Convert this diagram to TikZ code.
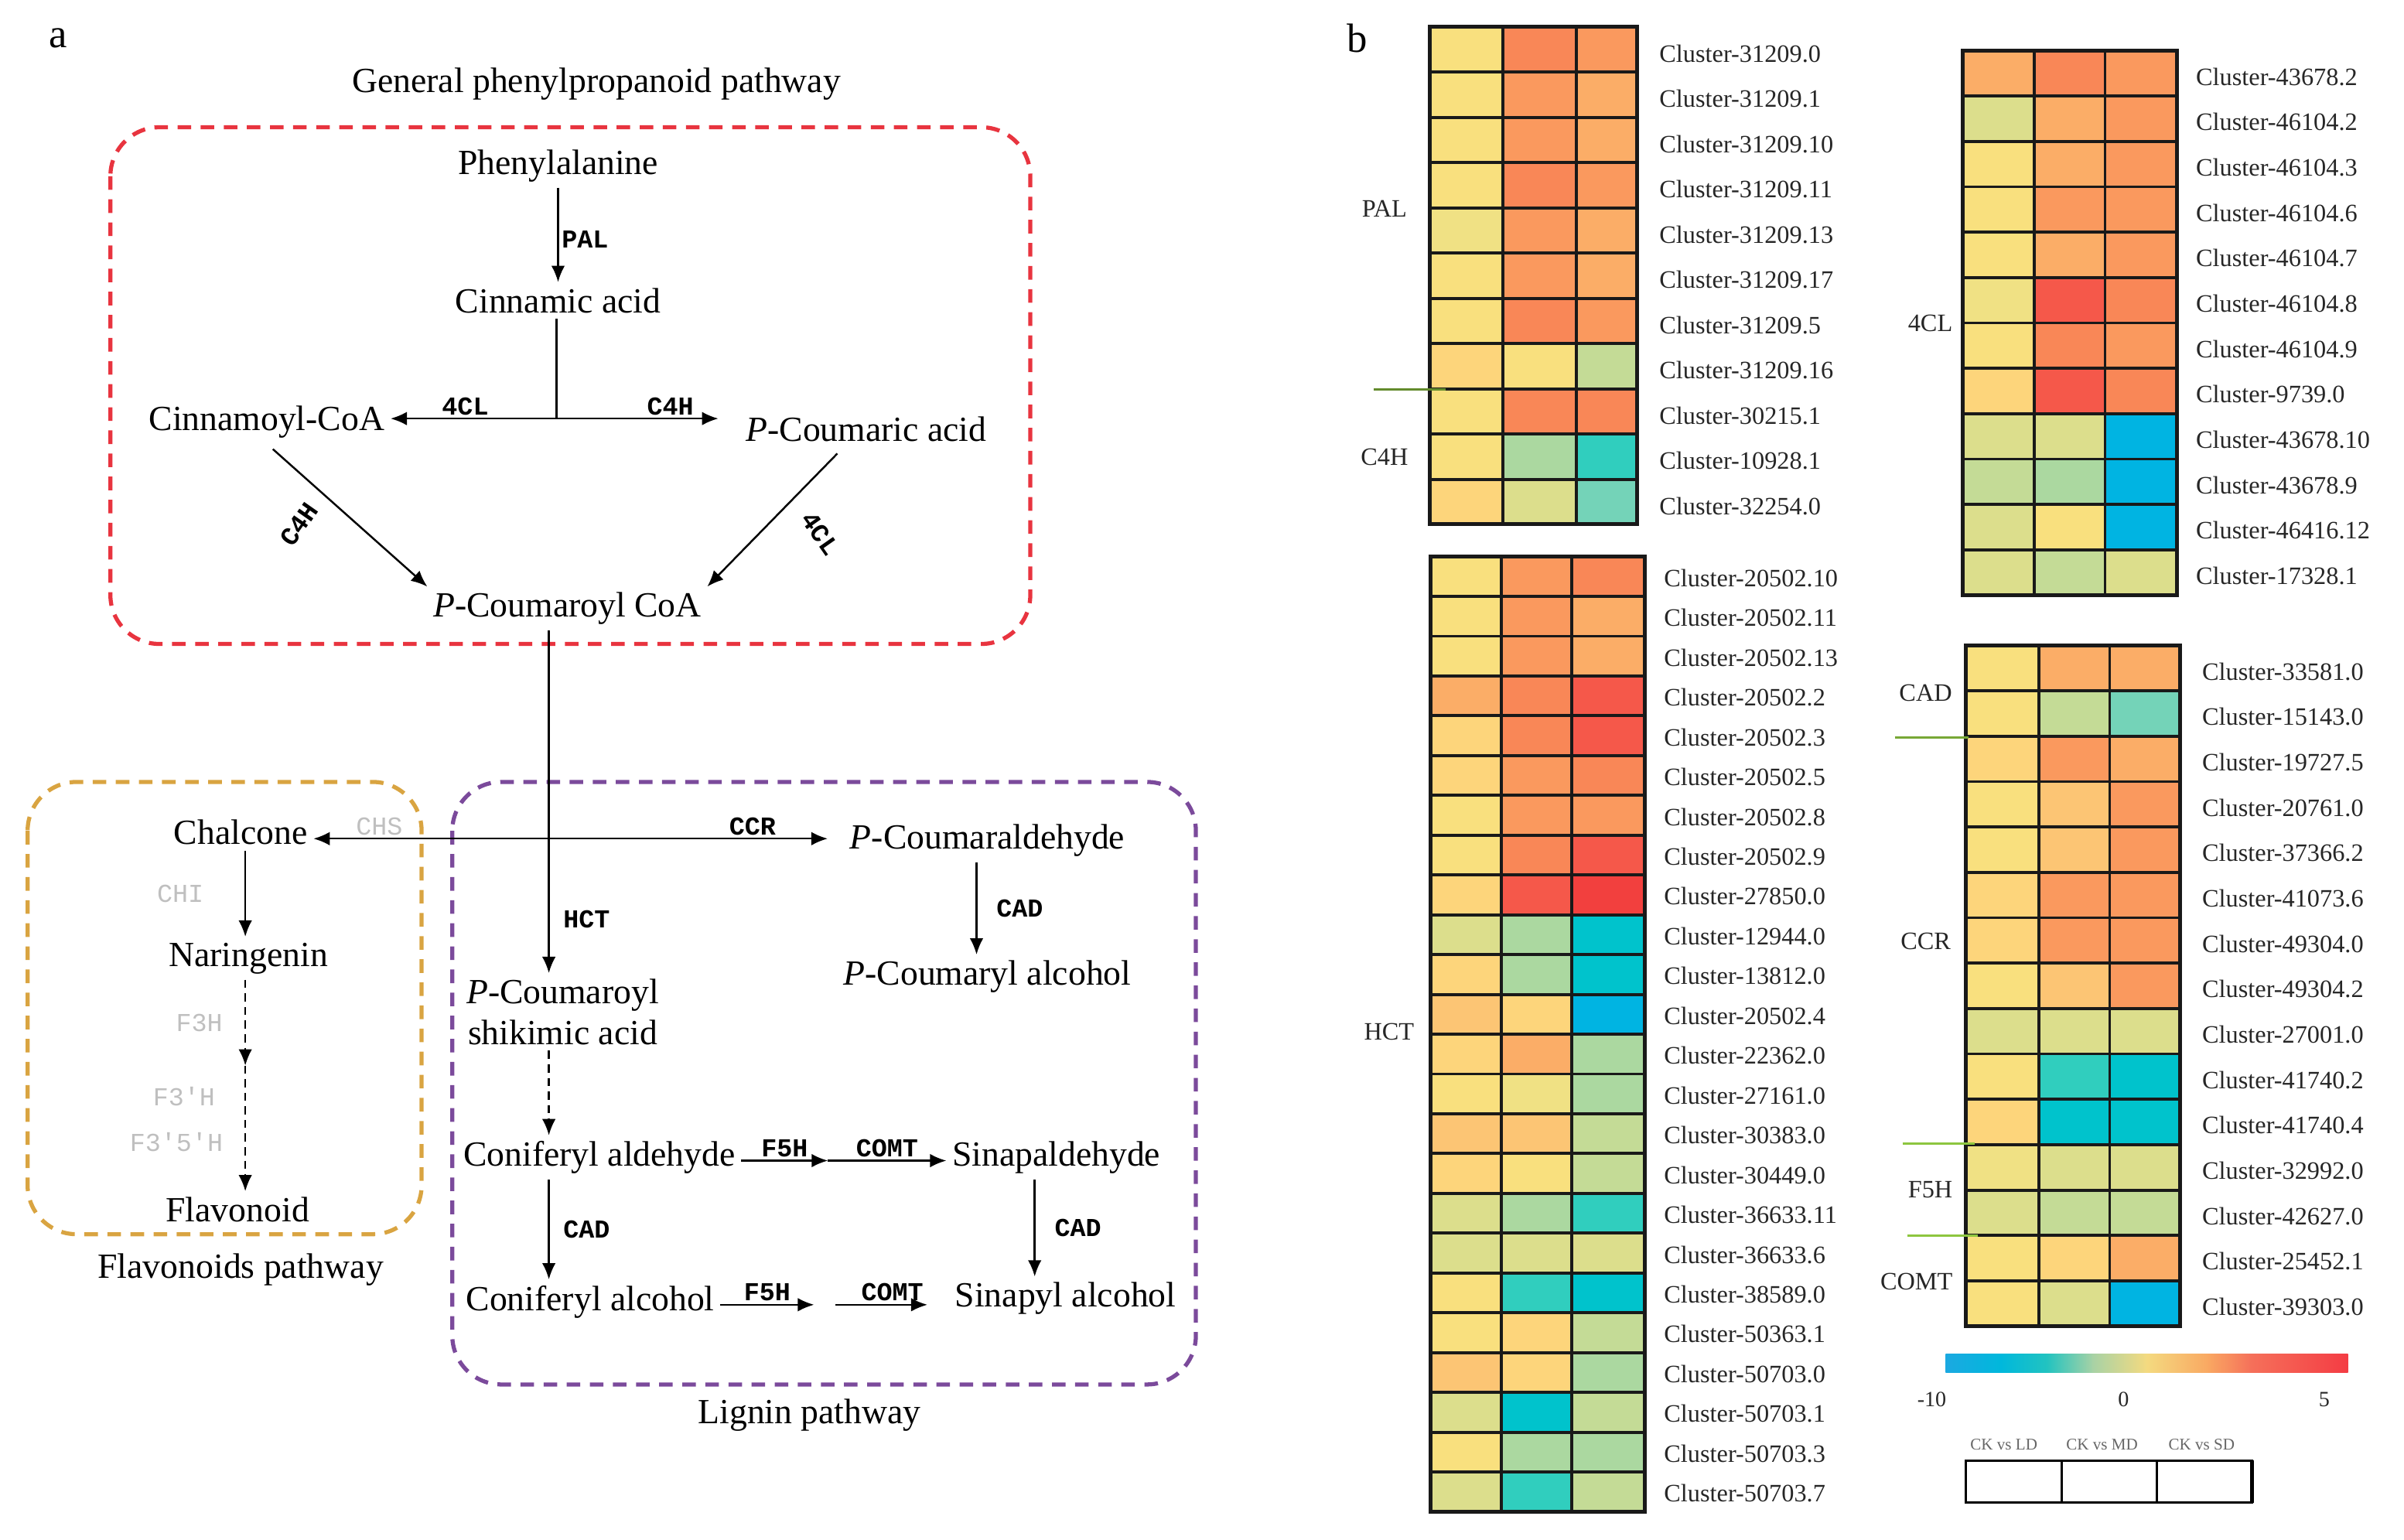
\documentclass[tikz,border=0pt]{standalone}
\usepackage{fontspec}
\setmainfont{Liberation Serif}
\setmonofont{Liberation Mono}
\usetikzlibrary{arrows.meta}
\definecolor{hY}{HTML}{F9E07E}
\definecolor{hYp}{HTML}{F0E184}
\definecolor{hYo}{HTML}{FDD57B}
\definecolor{hYd}{HTML}{FCC574}
\definecolor{hLo}{HTML}{FBAD67}
\definecolor{hO}{HTML}{FA995E}
\definecolor{hOr}{HTML}{F98757}
\definecolor{hR}{HTML}{F5584A}
\definecolor{hRr}{HTML}{F2403E}
\definecolor{hGy}{HTML}{DCDE8C}
\definecolor{hLg}{HTML}{C4DB96}
\definecolor{hG}{HTML}{ABD8A0}
\definecolor{hTl}{HTML}{74D3B8}
\definecolor{hT}{HTML}{30CEBE}
\definecolor{hC}{HTML}{00C3CC}
\definecolor{hB}{HTML}{00B4E2}
\definecolor{boxred}{HTML}{E8343F}
\definecolor{boxgold}{HTML}{D9A441}
\definecolor{boxpurple}{HTML}{7B4A9B}
\definecolor{sepgreen}{HTML}{8DC63F}

\begin{document}
\begin{tikzpicture}[x=0.01982cm,y=-0.01982cm,
  cmp/.style={font=\fontsize{13}{15}\selectfont,inner sep=2pt},
  enz/.style={font=\ttfamily\bfseries\fontsize{9.5}{11}\selectfont,inner sep=1pt},
  faint/.style={font=\ttfamily\fontsize{9.5}{11}\selectfont,text=black!25,inner sep=1pt},
  rxn/.style={-{Latex[length=6pt,width=5pt]},line width=0.7pt},
  dsh/.style={dash pattern=on 3pt off 2pt},
  pathbox/.style={line width=1.5pt,dash pattern=on 5pt off 3.5pt,rounded corners=18pt},
  clu/.style={anchor=west,font=\fontsize{9.2}{11}\selectfont,text=black!85,inner sep=0pt},
  grp/.style={font=\fontsize{9.2}{11}\selectfont,text=black!85,inner sep=0pt},
  cell/.style={line width=1.1pt,black!90},
  sep/.style={line width=1pt,sepgreen}]
\useasboundingbox (0,0) rectangle (1568,1004);

\node[font=\fontsize{15}{17}\selectfont] (pa) at (38,25) {a};
\node[font=\fontsize{15}{17}\selectfont] (pb) at (885,25) {b};

\draw[pathbox,boxred] (72,83) rectangle (672,420);
\draw[pathbox,boxgold] (18,510) rectangle (275,805);
\draw[pathbox,boxpurple] (295,510) rectangle (780,903);
\node[cmp] (ttlgen) at (389,55) {General phenylpropanoid pathway};
\node[cmp] (ttlflav) at (157,828) {Flavonoids pathway};
\node[cmp] (ttllig) at (528,923) {Lignin pathway};

\node[cmp] (phe) at (364,108) {Phenylalanine};
\node[cmp] (cin) at (364,196) {Cinnamic acid};
\node[cmp] (cinco) at (174,275) {Cinnamoyl-CoA};
\node[cmp] (pcou) at (565,280) {\textit{P}-Coumaric acid};
\node[cmp] (pcoa) at (370,397) {\textit{P}-Coumaroyl CoA};
\coordinate (cs) at (363,273);
\coordinate (br) at (358,547);

\draw[rxn] (phe) -- node[enz,right,pos=0.55] (ePAL) {PAL} (cin);
\draw[line width=0.7pt] (cin.south -| cs) -- (cs);
\draw[rxn] (cs) -- node[enz,above,pos=0.55] (e4CLa) {4CL} (cs -| cinco.east);
\draw[rxn,shorten >=8pt] (cs) -- node[enz,above,pos=0.62] (eC4Ha) {C4H} (cs -| pcou.west);
\draw[rxn,shorten <=3pt] (cinco.south) -- (pcoa.north west);
\draw[rxn,shorten <=3pt] ([xshift=-0.3cm]pcou.south) -- (pcoa.north east);
\node[enz,rotate=55] (eC4Hb) at (195,342) {C4H};
\node[enz,rotate=-55] (e4CLb) at (535,348) {4CL};

\node[cmp] (chal) at (157,543) {Chalcone};
\node[cmp] (nar) at (162,625) {Naringenin};
\node[cmp] (flav) at (155,789) {Flavonoid};
\coordinate (fmid) at (160,695);
\draw[line width=0.7pt] (pcoa.south -| br) -- (br);
\draw[rxn] (br) -- node[faint,above,pos=0.72] (eCHS) {CHS} (br -| chal.east);
\draw[rxn] (chal.south -| fmid) -- node[faint,left=14pt,pos=0.5] (eCHI) {CHI} (nar.north -| fmid);
\draw[rxn,dsh] (nar.south -| fmid) -- (fmid);
\draw[rxn,dsh] (fmid) -- (fmid |- flav.north);
\node[faint] (eF3H) at (130,667) {F3H};
\node[faint] (eF3pH) at (120,715) {F3'H};
\node[faint] (eF35H) at (115,745) {F3'5'H};

\node[cmp] (pald) at (644,548) {\textit{P}-Coumaraldehyde};
\node[cmp] (palc) at (644,637) {\textit{P}-Coumaryl alcohol};
\node[cmp,align=center] (shik) at (367,660) {\textit{P}-Coumaroyl\\shikimic acid};
\node[cmp] (conald) at (391,755) {Coniferyl aldehyde};
\node[cmp] (sinald) at (689,755) {Sinapaldehyde};
\node[cmp] (conalc) at (385,849) {Coniferyl alcohol};
\node[cmp] (sinalc) at (695,847) {Sinapyl alcohol};
\coordinate (m1) at (540,757);
\coordinate (m2) at (531,851);
\coordinate (m3) at (545,851);

\draw[rxn,shorten >=6pt] (br) -- node[enz,above,pos=0.69] (eCCR) {CCR} (br -| pald.west);
\draw[rxn] (br) -- node[enz,right=4pt,pos=0.6] (eHCT) {HCT} (br |- shik.north);
\draw[rxn] ([xshift=-0.14cm]pald.south) -- node[enz,right=6pt] (eCADa) {CAD} ([xshift=-0.14cm]pald.south |- palc.north);
\draw[rxn,dsh] (shik.south -| br) -- (conald.north -| br);
\draw[rxn] (conald.east |- m1) -- node[enz,above] (eF5Ha) {F5H} (m1);
\draw[rxn] (m1) -- node[enz,above] (eCOMTa) {COMT} (m1 -| sinald.west);
\draw[rxn] (conald.south -| br) -- node[enz,right=4pt] (eCADb) {CAD} (conalc.north -| br);
\draw[rxn] ([xshift=-0.28cm]sinald.south) -- node[enz,right=6pt] (eCADc) {CAD} ([xshift=-0.28cm]sinald.south |- sinalc.north);
\draw[rxn] (conalc.east |- m2) -- node[enz,above] (eF5Hb) {F5H} (m2);
\draw[rxn,shorten >=8pt] (m3) -- node[enz,above] (eCOMTb) {COMT} (m3 -| sinalc.west);

% heatmap PAL / C4H
\foreach \ca/\cb/\cc/\lab [count=\i from 0] in {hY/hOr/hO/31209.0, hY/hO/hLo/31209.1, hY/hO/hLo/31209.10, hY/hOr/hO/31209.11, hYp/hO/hLo/31209.13, hY/hO/hLo/31209.17, hY/hOr/hO/31209.5, hYo/hY/hLg/31209.16, hY/hOr/hOr/30215.1, hY/hG/hT/10928.1, hYo/hGy/hTl/32254.0}{
  \fill[\ca] (932.4,{17.6+29.5*\i}) rectangle (980.3,{47.1+29.5*\i});
  \fill[\cb] (980.3,{17.6+29.5*\i}) rectangle (1028.3,{47.1+29.5*\i});
  \fill[\cc] (1028.3,{17.6+29.5*\i}) rectangle (1067.6,{47.1+29.5*\i});
  \node[clu] (pal\i) at (1082,{35+29.5*\i}) {Cluster-\lab};
}
\foreach \i in {1,...,10} \draw[cell] (932.4,{17.6+29.5*\i}) -- (1067.6,{17.6+29.5*\i});
\foreach \xx in {980.3,1028.3} \draw[cell] (\xx,17.6) -- (\xx,342);
\draw[cell,line width=1.4pt] (932.4,17.6) rectangle (1067.6,342);
\node[grp] (gPAL) at (903,136) {PAL};
\node[grp] (gC4H) at (903,298) {C4H};
\draw[sep,black!30!sepgreen] (896,254) -- (943,254);

% heatmap 4CL
\foreach \ca/\cb/\cc/\lab [count=\i from 0] in {hLo/hOr/hO/43678.2, hGy/hLo/hO/46104.2, hY/hLo/hO/46104.3, hY/hO/hO/46104.6, hY/hLo/hO/46104.7, hYp/hR/hOr/46104.8, hY/hOr/hO/46104.9, hYo/hR/hOr/9739.0, hGy/hGy/hB/43678.10, hLg/hG/hB/43678.9, hGy/hY/hB/46416.12, hGy/hLg/hGy/17328.1}{
  \fill[\ca] (1280,{33+29.6*\i}) rectangle (1327,{62.6+29.6*\i});
  \fill[\cb] (1327,{33+29.6*\i}) rectangle (1373,{62.6+29.6*\i});
  \fill[\cc] (1373,{33+29.6*\i}) rectangle (1420,{62.6+29.6*\i});
  \node[clu] (cl\i) at (1432,{50+29.6*\i}) {Cluster-\lab};
}
\foreach \i in {1,...,11} \draw[cell] (1280,{33+29.6*\i}) -- (1420,{33+29.6*\i});
\foreach \xx in {1327,1373} \draw[cell] (\xx,33) -- (\xx,388.2);
\draw[cell,line width=1.4pt] (1280,33) rectangle (1420,388.2);
\node[grp] (g4CL) at (1259,211) {4CL};

% heatmap HCT
\foreach \ca/\cb/\cc/\lab [count=\i from 0] in {hY/hO/hOr/20502.10, hY/hO/hLo/20502.11, hY/hO/hLo/20502.13, hLo/hOr/hR/20502.2, hYo/hOr/hR/20502.3, hYo/hO/hOr/20502.5, hY/hO/hO/20502.8, hY/hOr/hR/20502.9, hYo/hR/hRr/27850.0, hGy/hG/hC/12944.0, hYo/hG/hC/13812.0, hYd/hYo/hB/20502.4, hYo/hLo/hG/22362.0, hY/hYp/hG/27161.0, hYd/hYd/hLg/30383.0, hYo/hY/hLg/30449.0, hGy/hG/hT/36633.11, hGy/hGy/hGy/36633.6, hY/hT/hC/38589.0, hY/hYo/hLg/50363.1, hYd/hYo/hG/50703.0, hGy/hC/hLg/50703.1, hY/hG/hG/50703.3, hGy/hT/hLg/50703.7}{
  \fill[\ca] (932.9,{363+25.96*\i}) rectangle (979.3,{388.96+25.96*\i});
  \fill[\cb] (979.3,{363+25.96*\i}) rectangle (1025.2,{388.96+25.96*\i});
  \fill[\cc] (1025.2,{363+25.96*\i}) rectangle (1072.7,{388.96+25.96*\i});
  \node[clu] (hct\i) at (1085,{377+25.96*\i}) {Cluster-\lab};
}
\foreach \i in {1,...,23} \draw[cell] (932.9,{363+25.96*\i}) -- (1072.7,{363+25.96*\i});
\foreach \xx in {979.3,1025.2} \draw[cell] (\xx,363) -- (\xx,986);
\draw[cell,line width=1.4pt] (932.9,363) rectangle (1072.7,986);
\node[grp] (gHCT) at (906,673) {HCT};

% heatmap CAD / CCR / F5H / COMT
\foreach \ca/\cb/\cc/\lab [count=\i from 0] in {hY/hLo/hLo/33581.0, hY/hLg/hTl/15143.0, hYo/hO/hLo/19727.5, hY/hYd/hO/20761.0, hY/hYd/hO/37366.2, hYo/hO/hO/41073.6, hYo/hO/hO/49304.0, hY/hYd/hO/49304.2, hGy/hGy/hGy/27001.0, hY/hT/hC/41740.2, hYo/hC/hC/41740.4, hYp/hGy/hGy/32992.0, hGy/hLg/hLg/42627.0, hY/hYo/hLo/25452.1, hY/hGy/hB/39303.0}{
  \fill[\ca] (1282,{421+29.6*\i}) rectangle (1330,{450.6+29.6*\i});
  \fill[\cb] (1330,{421+29.6*\i}) rectangle (1376,{450.6+29.6*\i});
  \fill[\cc] (1376,{421+29.6*\i}) rectangle (1422,{450.6+29.6*\i});
  \node[clu] (ca\i) at (1436,{438+29.6*\i}) {Cluster-\lab};
}
\foreach \i in {1,...,14} \draw[cell] (1282,{421+29.6*\i}) -- (1422,{421+29.6*\i});
\foreach \xx in {1330,1376} \draw[cell] (\xx,421) -- (\xx,865);
\draw[cell,line width=1.4pt] (1282,421) rectangle (1422,865);
\node[grp] (gCAD) at (1256,452) {CAD};
\node[grp] (gCCR) at (1256,614) {CCR};
\node[grp] (gF5H) at (1259,776) {F5H};
\node[grp] (gCOMT) at (1250,836) {COMT};
\draw[sep,black!15!sepgreen] (1236,481) -- (1284,481);
\draw[sep] (1241,746) -- (1288,746);
\draw[sep] (1244,806) -- (1290,806);

% colour key
\foreach \xa/\xb/\ca/\cb in {1269/1305/{rgb,255:red,27;green,169;blue,225}/{rgb,255:red,0;green,184;blue,220}, 1305/1335/{rgb,255:red,0;green,184;blue,220}/{rgb,255:red,34;green,195;blue,192}, 1335/1365/{rgb,255:red,34;green,195;blue,192}/{rgb,255:red,168;green,210;blue,165}, 1365/1400/{rgb,255:red,168;green,210;blue,165}/{rgb,255:red,244;green,218;blue,128}, 1400/1440/{rgb,255:red,244;green,218;blue,128}/{rgb,255:red,249;green,168;blue,98}, 1440/1468/{rgb,255:red,249;green,168;blue,98}/{rgb,255:red,245;green,112;blue,90}, 1468/1531/{rgb,255:red,245;green,112;blue,90}/{rgb,255:red,244;green,60;blue,68}}
  \shade[left color=\ca,right color=\cb] (\xa,883) rectangle (\xb+0.5,895);
\node[grp,font=\fontsize{8}{9}\selectfont] (kmin) at (1260,913) {-10};
\node[grp,font=\fontsize{8}{9}\selectfont] (kzero) at (1385,913) {0};
\node[grp,font=\fontsize{8}{9}\selectfont] (kmax) at (1516,913) {5};

\draw[line width=0.9pt] (1282,952.6) rectangle (1469,980);
\draw[line width=0.9pt] (1344.6,952.6) -- (1344.6,980);
\draw[line width=0.9pt] (1406.6,952.6) -- (1406.6,980);
\draw[line width=1.5pt] (1469,952.6) -- (1469,980);
\node[grp,font=\fontsize{6}{7}\selectfont,text=black!60] (kLD) at (1307,942) {CK vs LD};
\node[grp,font=\fontsize{6}{7}\selectfont,text=black!60] (kMD) at (1371,942) {CK vs MD};
\node[grp,font=\fontsize{6}{7}\selectfont,text=black!60] (kSD) at (1436,942) {CK vs SD};
\end{tikzpicture}
\end{document}
